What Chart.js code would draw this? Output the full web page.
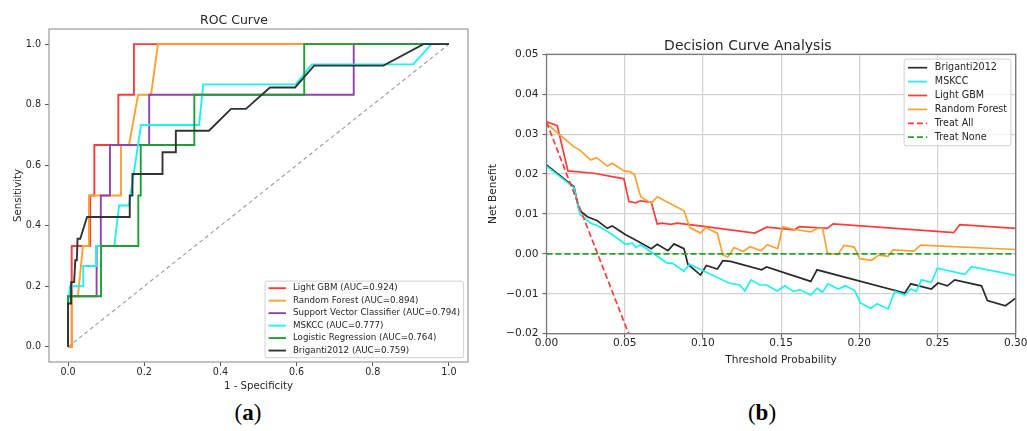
<!DOCTYPE html>
<html><head><meta charset="utf-8">
<script src="https://cdn.jsdelivr.net/npm/chart.js@4.4.1/dist/chart.umd.min.js"></script>
<style>
html,body{margin:0;padding:0;background:#fff;width:1027px;height:431px;overflow:hidden;position:relative;}
#ca{position:absolute;left:0;top:0;}
#cb{position:absolute;left:480px;top:0;}
.sub{position:absolute;font-family:"Liberation Serif","DejaVu Serif",serif;font-size:23px;color:#000;transform:translate(-50%,-50%);white-space:nowrap;}
</style></head><body>
<canvas id="ca" width="500" height="400"></canvas>
<canvas id="cb" width="560" height="400"></canvas>
<div class="sub" style="left:248px;top:413px">(<b>a</b>)</div>
<div class="sub" style="left:762px;top:413px">(<b>b</b>)</div>
<script>
// ---------- ROC data ----------
const rocTicks = [0, 0.2, 0.4, 0.6, 0.8, 1.0];
const rocFprLightGBM = [0, 0.0096, 0.0096, 0.058, 0.058, 0.069, 0.069, 0.132, 0.132, 0.173, 0.173, 1];
const rocTprLightGBM = [0, 0, 0.333, 0.333, 0.5, 0.5, 0.667, 0.667, 0.833, 0.833, 1, 1];
const rocFprRF = [0, 0.0105, 0.0105, 0.026, 0.039, 0.055, 0.055, 0.139, 0.139, 0.160, 0.184, 0.218, 0.236, 1];
const rocTprRF = [0, 0, 0.167, 0.167, 0.333, 0.333, 0.5, 0.5, 0.667, 0.667, 0.833, 0.833, 1, 1];
const rocFprSVC = [0, 0, 0.075, 0.075, 0.086, 0.086, 0.110, 0.110, 0.213, 0.213, 0.75, 0.75, 1];
const rocTprSVC = [0, 0.167, 0.167, 0.333, 0.333, 0.5, 0.5, 0.667, 0.667, 0.833, 0.833, 1, 1];
const rocFprMSKCC = [0, 0, 0.005, 0.040, 0.040, 0.0735, 0.0735, 0.1215, 0.134, 0.160, 0.1916, 0.344, 0.355, 0.598, 0.640, 0.906, 0.954, 1];
const rocTprMSKCC = [0, 0.133, 0.2, 0.2, 0.267, 0.267, 0.333, 0.333, 0.467, 0.467, 0.733, 0.733, 0.867, 0.867, 0.933, 0.933, 1, 1];
const rocFprLR = [0, 0, 0.0866, 0.0866, 0.1845, 0.1845, 0.1908, 0.1908, 0.3315, 0.3315, 0.620, 0.620, 1];
const rocTprLR = [0, 0.167, 0.167, 0.333, 0.333, 0.5, 0.5, 0.667, 0.667, 0.833, 0.833, 1, 1];
const rocFprBriganti = [0, 0, 0.008, 0.008, 0.016, 0.019, 0.023, 0.025, 0.032, 0.050, 0.162, 0.162, 0.169, 0.169, 0.248, 0.248, 0.283, 0.283, 0.370, 0.428, 0.467, 0.530, 0.596, 0.646, 0.828, 0.933, 1];
const rocTprBriganti = [0, 0.143, 0.143, 0.214, 0.214, 0.286, 0.286, 0.357, 0.357, 0.429, 0.429, 0.5, 0.5, 0.571, 0.571, 0.643, 0.643, 0.714, 0.714, 0.786, 0.786, 0.857, 0.857, 0.929, 0.929, 1, 1];
const rocChanceX = [0, 1];
const rocChanceY = [0, 1];

// ---------- DCA data ----------
const dcaXTicks = [0, 0.05, 0.10, 0.15, 0.20, 0.25, 0.30];
const dcaYTicks = [-0.02, -0.01, 0, 0.01, 0.02, 0.03, 0.04, 0.05];
const dcaTBriganti = [0, 0.0176, 0.0208, 0.0261, 0.0325, 0.0389, 0.0421, 0.0506, 0.0549, 0.067, 0.0708, 0.0777, 0.0815, 0.0879, 0.0904, 0.0985, 0.1022, 0.1092, 0.1128, 0.1177, 0.1375, 0.1407, 0.169, 0.173, 0.2291, 0.2329, 0.2461, 0.2503, 0.2563, 0.261, 0.2781, 0.2819, 0.2934, 0.30];
const dcaNBBriganti = [0.0223, 0.0168, 0.011, 0.0093, 0.0083, 0.0064, 0.007, 0.0048, 0.0039, 0.0013, 0.0024, 0.0008, 0.0025, 0.0013, -0.0026, -0.0053, -0.0029, -0.0038, -0.0017, -0.0019, -0.004, -0.0033, -0.0069, -0.004, -0.0098, -0.0075, -0.0088, -0.0073, -0.008, -0.0065, -0.008, -0.0117, -0.013, -0.0111];
const dcaTMSKCC = [0, 0.0176, 0.0214, 0.0282, 0.0325, 0.0389, 0.0421, 0.0506, 0.0549, 0.057, 0.0602, 0.0772, 0.0804, 0.0879, 0.0915, 0.1166, 0.1236, 0.1268, 0.1307, 0.1364, 0.1407, 0.1475, 0.1524, 0.1577, 0.162, 0.169, 0.173, 0.1764, 0.18, 0.1865, 0.1911, 0.1971, 0.2007, 0.2073, 0.2114, 0.2184, 0.2227, 0.2291, 0.2329, 0.2365, 0.2397, 0.2461, 0.2499, 0.2675, 0.2717, 0.30];
const dcaNBMSKCC = [0.022, 0.0166, 0.0099, 0.0077, 0.0071, 0.0056, 0.0048, 0.0024, 0.0027, 0.0016, 0.0023, -0.0023, -0.0023, -0.0043, -0.0026, -0.0073, -0.0078, -0.0093, -0.0065, -0.0078, -0.0078, -0.0093, -0.008, -0.0094, -0.009, -0.0103, -0.0086, -0.0096, -0.0075, -0.0088, -0.008, -0.0092, -0.0123, -0.0136, -0.0125, -0.0138, -0.0094, -0.0103, -0.0088, -0.0094, -0.0065, -0.0071, -0.0036, -0.0051, -0.0032, -0.0054];
const dcaTLightGBM = [0, 0.0069, 0.0137, 0.0304, 0.0495, 0.0527, 0.057, 0.060, 0.067, 0.0708, 0.074, 0.0793, 0.0836, 0.098, 0.1332, 0.1407, 0.1584, 0.1616, 0.1795, 0.1833, 0.2604, 0.2642, 0.30];
const dcaNBLightGBM = [0.0331, 0.0321, 0.0208, 0.0202, 0.0188, 0.0131, 0.0128, 0.0133, 0.0129, 0.0075, 0.0077, 0.0074, 0.0077, 0.0070, 0.0052, 0.0067, 0.0060, 0.0068, 0.0064, 0.0075, 0.0053, 0.0073, 0.0064];
const dcaTRF = [0, 0.0101, 0.0176, 0.0214, 0.0282, 0.032, 0.0389, 0.0421, 0.0495, 0.0533, 0.0563, 0.0602, 0.067, 0.0708, 0.0879, 0.0917, 0.0985, 0.1017, 0.1092, 0.1128, 0.116, 0.1199, 0.1258, 0.1301, 0.1372, 0.1412, 0.1478, 0.1511, 0.1588, 0.1687, 0.1735, 0.1766, 0.1796, 0.1862, 0.1902, 0.1968, 0.2003, 0.2078, 0.2125, 0.2184, 0.2216, 0.235, 0.2392, 0.30];
const dcaNBRF = [0.0327, 0.0293, 0.0268, 0.026, 0.0235, 0.0241, 0.022, 0.0227, 0.0208, 0.0206, 0.0198, 0.0143, 0.0127, 0.0143, 0.0108, 0.0066, 0.0052, 0.0066, 0.0052, -0.0003, -0.0008, 0.0016, 0.0006, 0.0018, 0.0008, 0.0023, 0.0013, 0.0068, 0.0061, 0.0055, 0.0064, 0.0063, 0.0002, -0.0002, 0.0021, 0.0017, -0.0012, -0.0016, -0.0003, -0.0006, 0.001, 0.0007, 0.0022, 0.0011];
const dcaTTreatAll = [0, 0.0525];
const dcaNBTreatAll = [0.033, -0.02];
const dcaTTreatNone = [0, 0.30];
const dcaNBTreatNone = [0, 0];

// ---------- helpers ----------
const FONT = '"DejaVu Sans", "Liberation Sans", sans-serif';
const TXT = '#262626';
const pts = (xs, ys) => xs.map((x, i) => ({x: x, y: ys[i]}));
function line(label, xs, ys, color, width, dash, order) {
  return {label, data: pts(xs, ys), borderColor: color, backgroundColor: color, borderWidth: width,
    borderDash: dash || [], pointRadius: 0, pointHoverRadius: 0, tension: 0, fill: false, order: order};
}

const framePlugin = {
  id: 'frame',
  afterDatasetsDraw(chart, args, opts) {
    const {ctx, chartArea: c} = chart;
    ctx.save();
    ctx.strokeStyle = opts.color; ctx.lineWidth = opts.width;
    ctx.strokeRect(c.left, c.top, c.right - c.left, c.bottom - c.top);
    ctx.restore();
  }
};

const legendPlugin = {
  id: 'mplLegend',
  afterDraw(chart, args, opts) {
    const {ctx, chartArea: ca} = chart;
    const fs = opts.fontSize;
    ctx.save();
    ctx.font = fs + 'px ' + FONT;
    const items = opts.items.map(i => chart.data.datasets[i]);
    const tw = Math.max(...items.map(d => ctx.measureText(d.label).width));
    const pad = 0.4 * fs, hl = 2 * fs, htp = 0.8 * fs, axpad = 0.5 * fs;
    const rowH = opts.rowH, vpad = opts.vpad;
    const w = pad + hl + htp + tw + pad;
    const h = 2 * vpad + rowH * (items.length - 1);
    const x0 = ca.right - axpad - w;
    const y0 = opts.loc === 'lower right' ? ca.bottom - axpad - h : ca.top + axpad;
    const r = 2;
    ctx.beginPath();
    ctx.moveTo(x0 + r, y0); ctx.lineTo(x0 + w - r, y0); ctx.arcTo(x0 + w, y0, x0 + w, y0 + r, r);
    ctx.lineTo(x0 + w, y0 + h - r); ctx.arcTo(x0 + w, y0 + h, x0 + w - r, y0 + h, r);
    ctx.lineTo(x0 + r, y0 + h); ctx.arcTo(x0, y0 + h, x0, y0 + h - r, r);
    ctx.lineTo(x0, y0 + r); ctx.arcTo(x0, y0, x0 + r, y0, r); ctx.closePath();
    ctx.fillStyle = 'rgba(255,255,255,0.85)'; ctx.fill();
    ctx.strokeStyle = '#d0d0d0'; ctx.lineWidth = 1; ctx.stroke();
    items.forEach((d, k) => {
      const cy = y0 + vpad + k * rowH;
      ctx.strokeStyle = d.borderColor; ctx.lineWidth = d.borderWidth;
      ctx.setLineDash(d.borderDash || []);
      ctx.beginPath(); ctx.moveTo(x0 + pad, cy); ctx.lineTo(x0 + pad + hl, cy); ctx.stroke();
      ctx.setLineDash([]);
      ctx.fillStyle = TXT; ctx.textBaseline = 'middle'; ctx.textAlign = 'left';
      ctx.fillText(d.label, x0 + pad + hl + htp, cy);
    });
    ctx.restore();
  }
};

// ---------- Chart A: ROC ----------
const rocDatasets = [
  line('Light GBM (AUC=0.924)', rocFprLightGBM, rocTprLightGBM, '#ff3b3b', 1.9, null, 7),
  line('Random Forest (AUC=0.894)', rocFprRF, rocTprRF, '#ffa033', 1.9, null, 6),
  line('Support Vector Classifier (AUC=0.794)', rocFprSVC, rocTprSVC, '#8e44ad', 1.9, null, 5),
  line('MSKCC (AUC=0.777)', rocFprMSKCC, rocTprMSKCC, '#1ff0f0', 1.9, null, 4),
  line('Logistic Regression (AUC=0.764)', rocFprLR, rocTprLR, '#1f9e36', 1.9, null, 3),
  line('Briganti2012 (AUC=0.759)', rocFprBriganti, rocTprBriganti, '#333333', 1.9, null, 2),
  line('Chance', rocChanceX, rocChanceY, '#9a9a9a', 1.1, [4, 3], 8)
];
const tickSet = arr => (s) => { s.ticks = arr.map(v => ({value: v})); };

new Chart(document.getElementById('ca'), {
  type: 'line',
  data: {datasets: rocDatasets},
  plugins: [framePlugin, legendPlugin],
  options: {
    responsive: false, animation: false, events: [],
    layout: {padding: {left: 0, top: 0, right: 32, bottom: 8}},
    plugins: {
      legend: {display: false}, tooltip: {enabled: false},
      title: {display: true, text: 'ROC Curve', color: TXT, font: {family: FONT, size: 12.5, weight: 'normal', lineHeight: 1.0}, padding: {top: 14.5, bottom: 2}},
      frame: {color: '#9a9a9a', width: 1.2},
      mplLegend: {items: [0, 1, 2, 3, 4, 5], fontSize: 8.7, rowH: 12.47, vpad: 7.1, loc: 'lower right'}
    },
    scales: {
      x: {type: 'linear', min: -0.05, max: 1.05, afterBuildTicks: tickSet(rocTicks),
        afterFit: s => { s.height = 30; },
        ticks: {callback: v => v.toFixed(1), color: TXT, font: {family: FONT, size: 9.6}, padding: 1, maxRotation: 0, autoSkip: false},
        grid: {display: true, drawOnChartArea: false, drawTicks: true, tickLength: 4, tickColor: '#555', tickWidth: 1},
        border: {display: false},
        title: {display: true, text: '1 - Specificity', color: TXT, font: {family: FONT, size: 10.2}, padding: {top: 0, bottom: 0}}},
      y: {type: 'linear', min: -0.05, max: 1.05, afterBuildTicks: tickSet(rocTicks),
        afterFit: s => { s.width = 49; },
        ticks: {callback: v => v.toFixed(1), color: TXT, font: {family: FONT, size: 9.6}, padding: 4, autoSkip: false},
        grid: {display: true, drawOnChartArea: false, drawTicks: true, tickLength: 4, tickColor: '#555', tickWidth: 1},
        border: {display: false},
        title: {display: true, text: 'Sensitivity', color: TXT, font: {family: FONT, size: 10.2}, padding: {top: 11.9, bottom: 0}}}
    }
  }
});

// ---------- Chart B: DCA ----------
const dcaDatasets = [
  line('Briganti2012', dcaTBriganti, dcaNBBriganti, '#2a2a2a', 1.7, null, 6),
  line('MSKCC', dcaTMSKCC, dcaNBMSKCC, '#1ff0f0', 1.7, null, 5),
  line('Light GBM', dcaTLightGBM, dcaNBLightGBM, '#ff3b3b', 1.7, null, 4),
  line('Random Forest', dcaTRF, dcaNBRF, '#ffa033', 1.7, null, 3),
  line('Treat All', dcaTTreatAll, dcaNBTreatAll, '#ff3b3b', 1.7, [6, 3], 2),
  line('Treat None', dcaTTreatNone, dcaNBTreatNone, '#22a22a', 1.7, [6, 3], 1)
];
const fmt2 = v => (v < -1e-9 ? '\u2212' : '') + Math.abs(v).toFixed(2);

new Chart(document.getElementById('cb'), {
  type: 'line',
  data: {datasets: dcaDatasets},
  plugins: [framePlugin, legendPlugin],
  options: {
    responsive: false, animation: false, events: [],
    layout: {padding: {left: 0, top: 0, right: 24.3, bottom: 33.6}},
    plugins: {
      legend: {display: false}, tooltip: {enabled: false},
      title: {display: true, text: 'Decision Curve Analysis', color: TXT, font: {family: FONT, size: 14, weight: 'normal'}, padding: {top: 37.6, bottom: -0.1}},
      frame: {color: '#7a7a7a', width: 1.3},
      mplLegend: {items: [0, 1, 2, 3, 4, 5], fontSize: 9.6, rowH: 13.9, vpad: 8.6, loc: 'upper right'}
    },
    scales: {
      x: {type: 'linear', min: 0, max: 0.3, afterBuildTicks: tickSet(dcaXTicks),
        afterFit: s => { s.height = 32.7; },
        ticks: {callback: fmt2, color: TXT, font: {family: FONT, size: 10.6}, padding: -1, maxRotation: 0, autoSkip: false},
        grid: {display: true, drawOnChartArea: true, color: '#d2d2d2', lineWidth: 1.2, drawTicks: true, tickLength: 4, tickColor: '#555', tickWidth: 1},
        border: {display: false},
        title: {display: true, text: 'Threshold Probability', color: TXT, font: {family: FONT, size: 10.6}, padding: {top: 0, bottom: 0}}},
      y: {type: 'linear', min: -0.02, max: 0.05, afterBuildTicks: tickSet(dcaYTicks),
        afterFit: s => { s.width = 66.5; },
        ticks: {callback: fmt2, color: TXT, font: {family: FONT, size: 10.6}, padding: 4, autoSkip: false},
        grid: {display: true, drawOnChartArea: true, color: '#d2d2d2', lineWidth: 1.2, drawTicks: true, tickLength: 4, tickColor: '#555', tickWidth: 1},
        border: {display: false},
        title: {display: true, text: 'Net Benefit', color: TXT, font: {family: FONT, size: 10.6}, padding: {top: 6.6, bottom: 0}}}
    }
  }
});
</script>
</body></html>
